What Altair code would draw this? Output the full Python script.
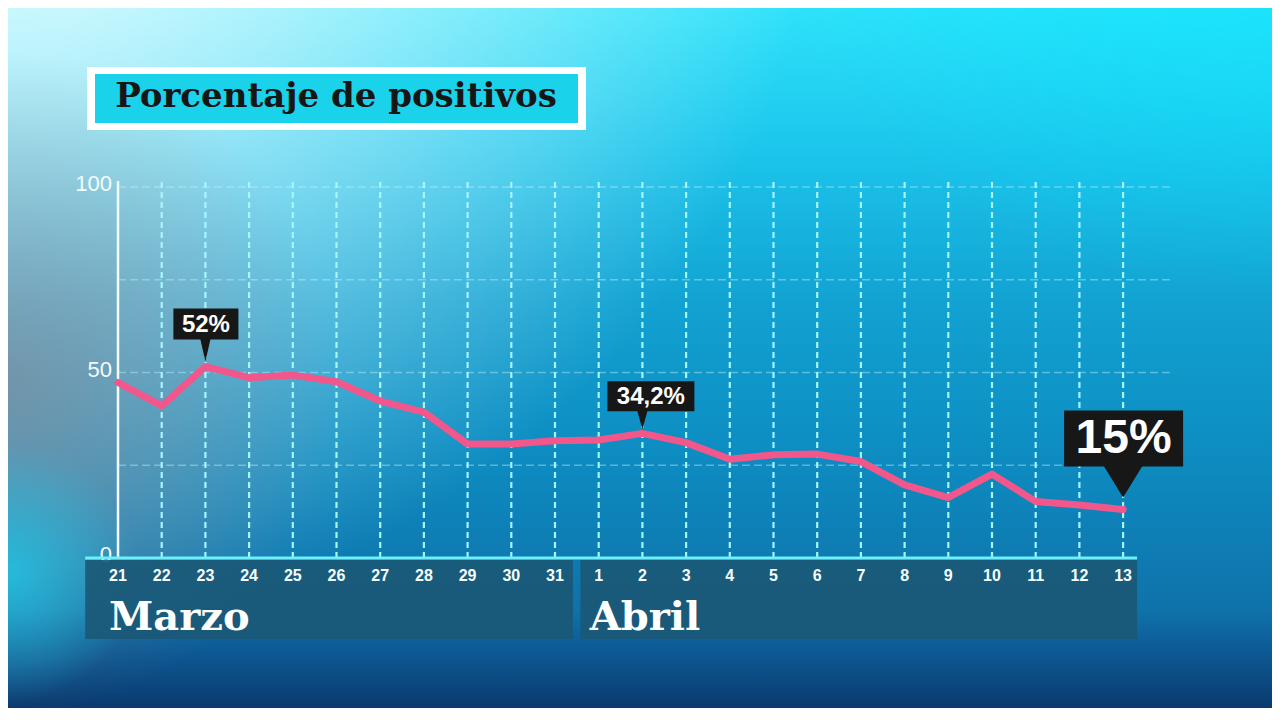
import altair as alt
import pandas as pd

# ---------------- data ----------------
days = ["21", "22", "23", "24", "25", "26", "27", "28", "29", "30", "31",
        "1", "2", "3", "4", "5", "6", "7", "8", "9", "10", "11", "12", "13"]
values = [47.3, 41.0, 51.6, 48.6, 49.3, 47.5, 42.3, 39.3, 30.7, 30.7, 31.6,
          31.8, 33.6, 31.1, 26.6, 27.8, 28.0, 26.0, 19.7, 16.3, 22.6, 15.2, 14.3, 13.1]
months = ["Marzo", "Abril"]
month_first = [0, 11]
month_last = [10, 23]
y_ticks = [0, 50, 100]
grid_y = [25, 50, 75, 100]
note_index = [2, 12, 23]
note_text = ["52%", "34,2%", "15%"]
title_text = "Porcentaje de positivos"

# ---------------- layout ----------------
W, H = 1264, 700
X0, DXP = 110.0, 43.7     # pixel of first day, pixels per day
Y0, DYP = 550.0, 3.71     # pixel of value 0, pixels per unit
xs = alt.Scale(domain=[-X0 / DXP, (W - X0) / DXP], nice=False, zero=False)
ys = alt.Scale(domain=[-(H - Y0) / DYP, Y0 / DYP], nice=False, zero=False)

SANS = "Liberation Sans, Arial, Roboto, sans-serif"
SLAB = "DejaVu Serif, serif"

df = pd.DataFrame({"i": list(range(len(days))), "day": days, "v": values})
one = pd.DataFrame({"a": [0]})

def X(f):
    return alt.X(f, type="quantitative", scale=xs, axis=None)

def Y(f):
    return alt.Y(f, type="quantitative", scale=ys, axis=None)

full = dict(x=alt.value(0), x2=alt.value(W), y=alt.value(0), y2=alt.value(H))

# radial gradients are drawn in a square of side max(W,H), centred on the view
SQ = max(W, H)
OFFY = (SQ - H) / 2.0

def radial(px, py, rpx, rgb, a, mid=None):
    cx, cy, r = px / SQ, (py + OFFY) / SQ, rpx / SQ
    stops = [alt.GradientStop(offset=0, color=f"rgba({rgb},{a})")]
    if mid is not None:
        stops.append(alt.GradientStop(offset=mid[0], color=f"rgba({rgb},{mid[1]})"))
    stops.append(alt.GradientStop(offset=1, color=f"rgba({rgb},0)"))
    return alt.Chart(one).mark_rect(fill=alt.RadialGradient(
        gradient="radial", x1=cx, y1=cy, r1=0, x2=cx, y2=cy, r2=r,
        stops=stops)).encode(**full)

bg1 = alt.Chart(one).mark_rect(fill=alt.LinearGradient(
    gradient="linear", x1=0, y1=0, x2=0, y2=1,
    stops=[alt.GradientStop(offset=0, color="#2ee2fa"),
           alt.GradientStop(offset=0.2, color="#1cc6ec"),
           alt.GradientStop(offset=0.42, color="#12a2d2"),
           alt.GradientStop(offset=0.65, color="#0d8bc0"),
           alt.GradientStop(offset=0.86, color="#0f72aa"),
           alt.GradientStop(offset=0.93, color="#0d5590"),
           alt.GradientStop(offset=1, color="#0a3a6e")])).encode(**full)
bg2 = radial(0, -200, 820, "255,255,255", 0.97, mid=(0.45, 0.55))
bg3 = radial(0, 375, 330, "125,135,150", 0.7)
bg5 = radial(0, 565, 130, "30,205,235", 0.75)
bg4 = radial(W, -282, 569, "0,230,255", 0.8)

# horizontal dashed grid
hgrid = alt.Chart(pd.DataFrame({"g": grid_y})).transform_calculate(
    a="-0.0", b="24.07").mark_rule(
    color="#c8f4ff", opacity=0.4, strokeDash=[8, 4], strokeWidth=1.5).encode(
    x=X("a"), x2="b", y=Y("g"))

# vertical dashed grid
vgrid = alt.Chart(df[df.i > 0]).transform_calculate(lo="0", hi="101.6").mark_rule(
    color="#a6f6ff", strokeDash=[6, 4], strokeWidth=2.2).encode(
    x=X("i"), y=Y("lo"), y2="hi")

yaxis = alt.Chart(df[df.i == 0]).transform_calculate(lo="0", hi="101.6").mark_rule(
    color="#f2fbff", strokeWidth=2.5).encode(x=X("i"), y=Y("lo"), y2="hi")

ylabels = alt.Chart(pd.DataFrame({"t": y_ticks})).mark_text(
    align="right", baseline="middle", dy=-3, fontSize=22, font=SANS,
    color="#f4fcff").encode(x=alt.value(104), y=Y("t"), text="t:N")

line = alt.Chart(df).mark_line(color="#f2578b", strokeWidth=7,
                               strokeJoin="round", strokeCap="round").encode(
    x=X("i"), y=Y("v"))

mdf = pd.DataFrame({"m": months, "first": month_first, "last": month_last})
bands = alt.Chart(mdf).transform_calculate(
    x0="datum.first > 0 ? datum.first - 0.42 : datum.first - 0.75",
    x1="datum.last < 23 ? datum.last + 0.41 : datum.last + 0.32").mark_rect(
    color="#1b5876", opacity=0.9).encode(
    x=X("x0"), x2="x1", y=alt.value(552), y2=alt.value(631))

baseline = alt.Chart(one).transform_calculate(a="-0.75", b="23.32", z="0").mark_rule(
    color="#6cefff", strokeWidth=3).encode(x=X("a"), x2="b", y=Y("z"))

daylabels = alt.Chart(df).mark_text(
    fontSize=16, fontWeight="bold", font=SANS, color="#f6fdff",
    baseline="middle").encode(x=X("i"), y=alt.value(568), text="day:N")

monthlabels = alt.Chart(mdf).mark_text(
    fontSize=40, fontWeight="bold", font=SLAB, color="#ffffff",
    align="left", baseline="alphabetic", dx=-9).encode(
    x=X("first"), y=alt.value(622), text="m:N")

# annotation call-outs (shape paths in pixel units, size=4 -> scale 1)
note_styles = [
    dict(path="M-32,-58 L33,-58 L33,-27 L5,-27 L0,-5 L-5,-27 L-32,-27 Z",
         dx=0.5, dy=-42, fs=24),
    dict(path="M-35,-52 L52,-52 L52,-22 L5,-22 L0,-4 L-5,-22 L-35,-22 Z",
         dx=8.5, dy=-36.5, fs=24),
    dict(path="M-59,-99 L60,-99 L60,-43 L19,-43 L0,-12 L-19,-43 L-59,-43 Z",
         dx=0.5, dy=-70, fs=48),
]
notes = []
for k, st in zip(range(len(note_index)), note_styles):
    nd = pd.DataFrame({"i": [note_index[k]], "v": [values[note_index[k]]],
                       "t": [note_text[k]]})
    box = alt.Chart(nd).mark_point(shape=st["path"], size=4, filled=True,
                                   color="#171717", opacity=1, strokeWidth=0).encode(
        x=X("i"), y=Y("v"))
    txt = alt.Chart(nd).mark_text(fontSize=st["fs"], fontWeight="bold", font=SANS,
                                  color="#ffffff", dx=st["dx"], dy=st["dy"],
                                  baseline="middle", align="center").encode(
        x=X("i"), y=Y("v"), text="t:N")
    notes += [box, txt]

# title box
tbox_out = alt.Chart(one).mark_rect(color="#ffffff").encode(
    x=alt.value(79), x2=alt.value(578), y=alt.value(59), y2=alt.value(122))
tbox_in = alt.Chart(one).mark_rect(color="#1ad2ea").encode(
    x=alt.value(87), x2=alt.value(570), y=alt.value(66), y2=alt.value(115))
ttext = alt.Chart(one).transform_calculate(t="'" + title_text + "'").mark_text(
    fontSize=34, fontWeight="bold", font=SLAB, color="#161616",
    align="center", baseline="alphabetic").encode(
    x=alt.value(328), y=alt.value(99), text="t:N")

chart = alt.layer(
    bg1, bg2, bg3, bg5, bg4, hgrid, vgrid, yaxis, ylabels, line, bands, baseline,
    daylabels, monthlabels, *notes, tbox_out, tbox_in, ttext
).properties(
    width=W, height=H, padding=0,
    autosize=alt.AutoSizeParams(type="none"),
    background="#0f6aa6",
).configure_view(stroke=None)

chart.save("out.html", embed_options={"renderer": "svg", "actions": False})
